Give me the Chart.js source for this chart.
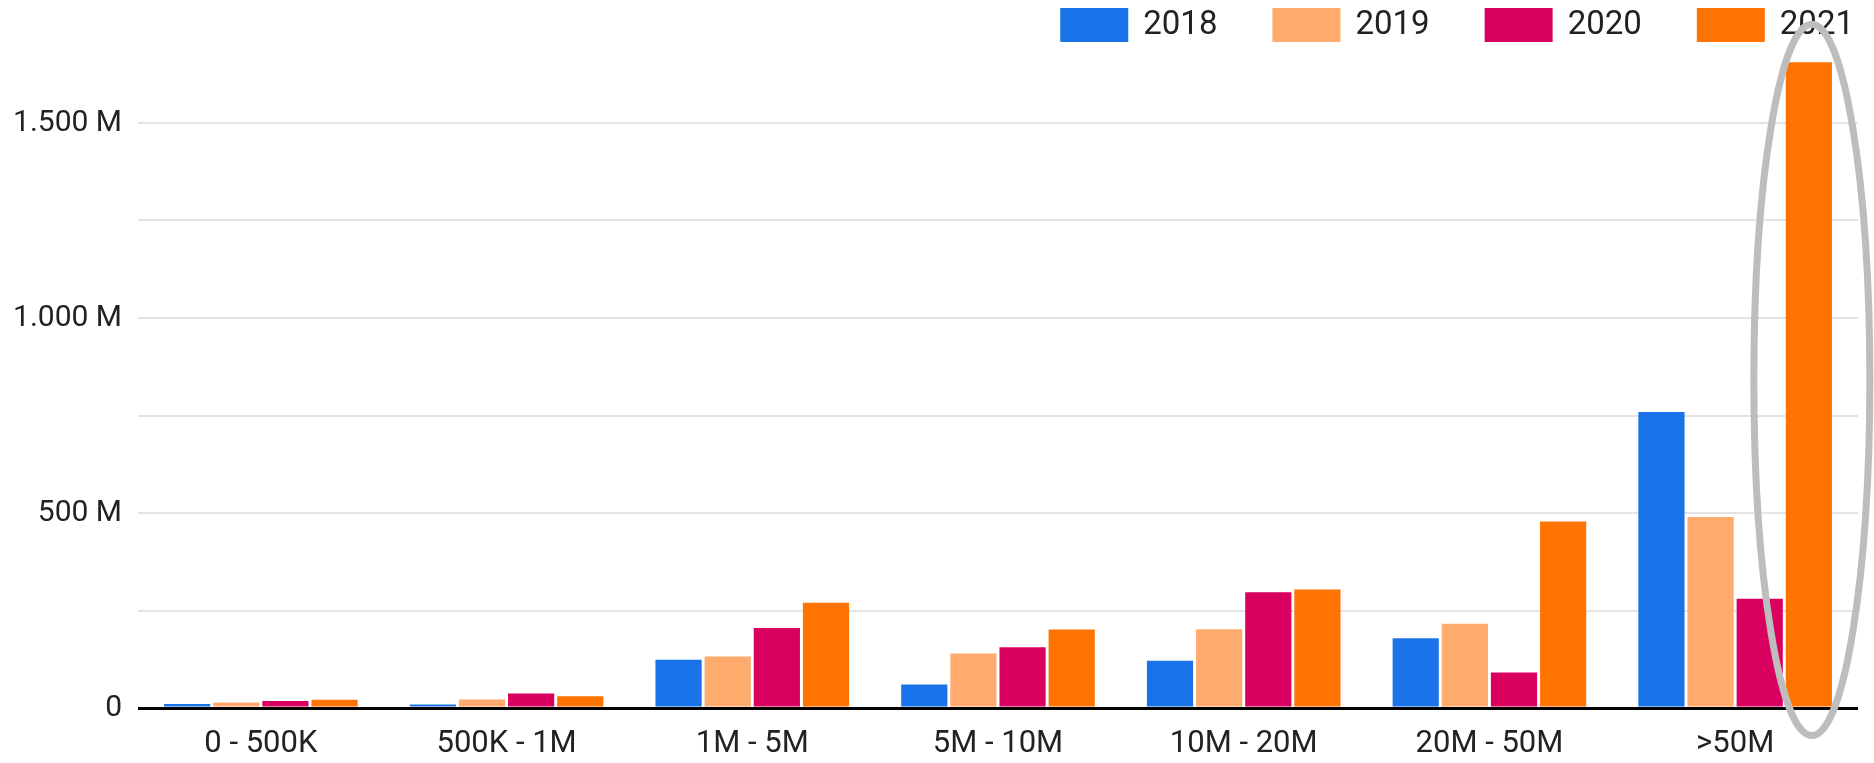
<!DOCTYPE html>
<html>
<head>
<meta charset="utf-8">
<script src="https://cdn.jsdelivr.net/npm/chart.js@4.4.0/dist/chart.umd.min.js"></script>
<style>
  html, body { margin: 0; padding: 0; background: #fff; }
  #wrap { width: 1874px; height: 763px; }
</style>
</head>
<body>
<div id="wrap"><canvas id="chart"></canvas></div>
<script>
// --- data ---
const categories = ['0 - 500K', '500K - 1M', '1M - 5M', '5M - 10M', '10M - 20M', '20M - 50M', '>50M'];
const years = ['2018', '2019', '2020', '2021'];
const values2018 = [10, 9, 124, 60, 121, 179, 759];
const values2019 = [14, 22, 132, 140, 202, 216, 490];
const values2020 = [18, 37, 205, 156, 297, 91, 280];
const values2021 = [21, 30, 270, 201, 304, 478, 1656];
const yTicks = [0, 250, 500, 750, 1000, 1250, 1500];
const colors = ['#1a73e8', '#ffab6e', '#da005f', '#ff7400'];

const series = [values2018, values2019, values2020, values2021];

function formatM(v) {
    if (v === 0) return '0';
    if (v % 500 !== 0) return '';
    if (v >= 1000) return Math.floor(v / 1000) + '.' + String(v % 1000).padStart(3, '0') + ' M';
    return v + ' M';
}

// legend top right, drawn by hand so spacing matches
const topLegend = {
    id: 'topLegend',
    afterDraw(chart) {
        const ctx = chart.ctx;
        const sets = chart.data.datasets;
        ctx.save();
        ctx.font = '33px Roboto';
        ctx.textBaseline = 'middle';
        let x = chart.chartArea.right - 4;
        for (let i = sets.length - 1; i >= 0; i--) {
            const w = ctx.measureText(sets[i].label).width;
            x -= w;
            ctx.fillStyle = '#222';
            ctx.fillText(sets[i].label, x, 26);
            x -= 15 + 68;
            ctx.fillStyle = sets[i].backgroundColor;
            ctx.fillRect(x, 8, 68, 34);
            x -= 55;
        }
        ctx.restore();
    }
};

// grey ring round the 2021 >50M bar
const highlight = {
    id: 'highlight',
    afterDraw(chart) {
        const bar = chart.getDatasetMeta(3).data[6];
        if (!bar) return;
        const ctx = chart.ctx;
        const top = bar.y - 38;
        const bottom = bar.base + 29;
        ctx.save();
        ctx.strokeStyle = '#bdbdbd';
        ctx.lineWidth = 7;
        ctx.beginPath();
        ctx.ellipse(bar.x + 3, (top + bottom) / 2, 58, (bottom - top) / 2, 0, 0, Math.PI * 2);
        ctx.stroke();
        ctx.restore();
    }
};

new Chart(document.getElementById('chart'), {
    type: 'bar',
    data: {
        labels: categories,
        datasets: years.map((y, i) => ({
            label: y,
            data: series[i],
            backgroundColor: colors[i],
            borderWidth: 0,
            barPercentage: 0.94,
            categoryPercentage: 0.8
        }))
    },
    options: {
        responsive: true,
        maintainAspectRatio: false,
        animation: false,
        layout: { padding: { top: 45, right: 16, left: 0, bottom: 0 } },
        plugins: {
            legend: { display: false },
            tooltip: { enabled: false }
        },
        scales: {
            x: {
                grid: { display: false, drawTicks: false },
                border: { display: false },
                afterFit: s => { s.height = 55; },
                ticks: {
                    color: '#222',
                    font: { family: 'Roboto', size: 31 },
                    padding: 18,
                    maxRotation: 0,
                    autoSkip: false
                }
            },
            y: {
                min: 0,
                max: 1700,
                afterBuildTicks: axis => { axis.ticks = yTicks.map(v => ({ value: v })); },
                afterFit: s => { s.width = 138; },
                border: { display: false },
                grid: {
                    drawTicks: false,
                    color: c => (c.tick && c.tick.value === 0) ? '#000' : '#e4e4e4',
                    lineWidth: c => (c.tick && c.tick.value === 0) ? 3 : 2
                },
                ticks: {
                    color: '#222',
                    font: { family: 'Roboto', size: 30 },
                    padding: 16,
                    callback: v => formatM(v)
                }
            }
        }
    },
    plugins: [topLegend, highlight]
});
</script>
</body>
</html>
